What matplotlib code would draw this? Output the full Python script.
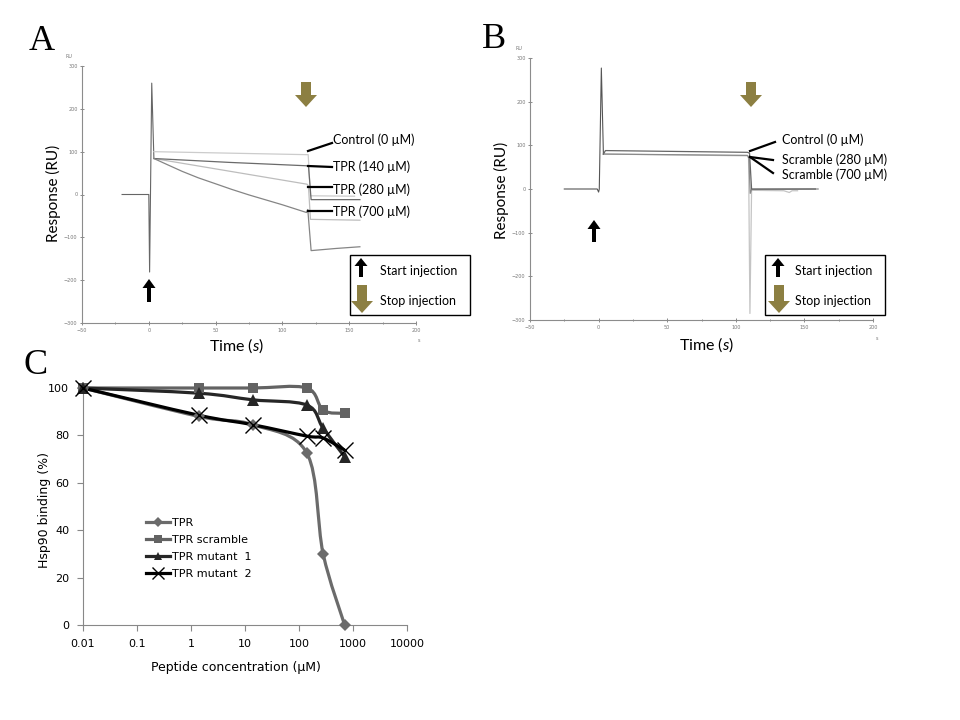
import numpy as np
import matplotlib.pyplot as plt
from matplotlib.path import Path
from matplotlib.patches import PathPatch, Rectangle, Polygon
from matplotlib.lines import Line2D
from matplotlib.transforms import Affine2D

plt.rcParams['mathtext.fontset'] = 'custom'
plt.rcParams['mathtext.rm'] = 'Lato'
plt.rcParams['mathtext.it'] = 'Lato:italic'

# ---- panel A: TPR peptide sensorgrams (time in s, response in RU)
a_inj_t = [-20, 0, 0.6, 2.2, 3.8]
a_inj_ru = [0, 0, -181, 260, 85]
a_ctrl_t = [3.8, 118.5, 119.3, 121, 154]
a_ctrl_ru = [100, 93, 93, -3, -4]
a_140_t = [3.8, 60, 118.5, 119.5, 121.5, 158]
a_140_ru = [84, 75, 67, 67, -12, -12]
a_280_t = [3.8, 118.5, 119.5, 121, 158]
a_280_ru = [84, 24, 20, -58, -60]
a_700_t = [3.8, 14, 25, 37, 50, 62, 75, 100, 118, 119, 121.5, 140, 158]
a_700_ru = [84, 69.5, 54, 39, 25, 12, -1, -24, -42, -35, -131, -126, -122]
a_labels = ['Control (0 µM)', 'TPR (140 µM)', 'TPR (280 µM)', 'TPR (700 µM)']

# ---- panel B: scrambled peptide sensorgrams
b_inj_t = [-25, -1, 0, 0.5, 2.0, 3.5]
b_inj_ru = [0, 0, -7, 0, 277, 80]
b_ctrl_t = [3.5, 5, 108.5, 110, 111.5, 158]
b_ctrl_ru = [80, 88, 84, 82, 0, 0]
b_280_t = [3.5, 108.5, 109.5, 110.5, 111.5, 160]
b_280_ru = [80, 77, 72, -10, -1, 0]
b_700_t = [3.5, 108.5, 109.3, 110.3, 111.5, 135, 139, 141, 145]
b_700_ru = [80, 76, 70, -285, -3, -4, -8, -4, -4]
b_labels = ['Control (0 µM)', 'Scramble (280 µM)', 'Scramble (700 µM)']

# ---- panel C: competition (% Hsp90 binding vs peptide concentration)
conc = [0.01, 1.4, 14, 140, 280, 700]
tpr = [100, 88, 84.5, 72.5, 30, 0]
tpr_scr = [100, 100, 100, 100, 90.6, 89.3]
tpr_mut1 = [100, 97.8, 95, 92.8, 83, 71]
tpr_mut2 = [100, 88.5, 84.5, 79.7, 78.9, 73.8]
c_names = ['TPR', 'TPR scramble', 'TPR mutant  1', 'TPR mutant  2']

gold = '#8C7F42'
lato = ['Lato', 'DejaVu Sans']

fig = plt.figure(figsize=(9.6, 7.2), dpi=100)
# pixel coordinates (y down) for the annotation decorations
px = Affine2D().scale(1 / 960, -1 / 720).translate(0, 1) + fig.transFigure


def sensor_axes(rect):
    ax = fig.add_axes(rect)
    ax.set_xlim(-50, 200)
    ax.set_ylim(-300, 300)
    ax.set_xticks(np.arange(-50, 201, 50))
    ax.set_xticks(np.arange(-50, 201, 25), minor=True)
    ax.set_yticks(np.arange(-300, 301, 100))
    for s in ['top', 'right']:
        ax.spines[s].set_visible(False)
    for s in ['left', 'bottom']:
        ax.spines[s].set_color('#8c8c8c')
        ax.spines[s].set_linewidth(0.8)
    ax.tick_params(which='both', labelsize=3.5, colors='#777777', length=2.5,
                   width=0.6, direction='inout', pad=2)
    ax.tick_params(which='minor', length=1.5)
    return ax


def block_arrow(x, y_tail, y_tip, shaft, head, hlen, color):
    d = 1 if y_tip > y_tail else -1
    yb = y_tip - d * hlen
    pts = [(x - shaft / 2, y_tail), (x + shaft / 2, y_tail), (x + shaft / 2, yb),
           (x + head / 2, yb), (x, y_tip), (x - head / 2, yb), (x - shaft / 2, yb)]
    fig.add_artist(Polygon(pts, closed=True, transform=px, facecolor=color,
                           edgecolor='none', zorder=5))


def leader(x0, y0, x1, y1):
    fig.add_artist(Line2D([x0, x1], [y0, y1], transform=px, color='black', lw=1.6))


def key_box(x0, y0, x1, y1, xa, xt):
    fig.add_artist(Rectangle((x0, y1), x1 - x0, y0 - y1, transform=px,
                             facecolor='white', edgecolor='black', lw=1, zorder=4))
    block_arrow(xa, y0 + 22, y0 + 3, 4, 13, 8, 'black')
    block_arrow(xa + 1, y0 + 30, y1 - 2, 10, 22, 12, gold)
    fig.text(xt / 960, 1 - (y0 + 16) / 720, 'Start injection', family=lato,
             fontsize=9, va='center', zorder=6)
    fig.text(xt / 960, 1 - (y0 + 46) / 720, 'Stop injection', family=lato,
             fontsize=9, va='center', zorder=6)


# ---------------- panel A
axA = sensor_axes([82 / 960, 1 - 323 / 720, 334 / 960, 257 / 720])
axA.plot(a_inj_t, a_inj_ru, color='#666666', lw=0.8)
axA.plot(a_ctrl_t, a_ctrl_ru, color='#cccccc', lw=0.9)
axA.plot(a_280_t, a_280_ru, color='#bdbdbd', lw=0.9)
axA.plot(a_140_t, a_140_ru, color='#6a6a6a', lw=0.9)
axA.plot(a_700_t, a_700_ru, color='#858585', lw=0.9)
axA.set_ylabel('Response (RU)', family=lato, fontsize=11)
axA.yaxis.set_label_coords(-0.062, 0.506)
axA.set_xlabel('Time ($\\it{s}$)', family=lato, fontsize=11.5)
axA.xaxis.set_label_coords(0.462, -0.052)
fig.text(69 / 960, 1 - 56 / 720, 'RU', fontsize=3.5, color='#777777', ha='center', va='center')
fig.text(419 / 960, 1 - 341 / 720, 's', fontsize=3.5, color='#777777', ha='center', va='center')

leader(308, 151, 332, 143)
leader(308, 166, 332, 167)
leader(308, 187, 332, 187)
leader(308, 211, 332, 211)
for lab, yy in zip(a_labels, [140, 167, 190, 212]):
    fig.text(333 / 960, 1 - yy / 720, lab, family=lato, fontsize=9, va='center')
block_arrow(306, 82, 107, 10, 22, 12, gold)
block_arrow(149, 302, 279, 4, 13, 9, 'black')
key_box(350, 255, 470, 315, 361, 380)

# ---------------- panel B
axB = sensor_axes([530 / 960, 1 - 320 / 720, 343 / 960, 262 / 720])
axB.plot(b_inj_t, b_inj_ru, color='#555555', lw=0.8)
axB.plot(b_700_t, b_700_ru, color='#c4c4c4', lw=0.9)
axB.plot(b_280_t, b_280_ru, color='#8a8a8a', lw=0.9)
axB.plot(b_ctrl_t, b_ctrl_ru, color='#666666', lw=0.9)
axB.set_ylabel('Response (RU)', family=lato, fontsize=11)
axB.yaxis.set_label_coords(-0.062, 0.496)
axB.set_xlabel('Time ($\\it{s}$)', family=lato, fontsize=11.5)
axB.xaxis.set_label_coords(0.516, -0.059)
fig.text(519 / 960, 1 - 48 / 720, 'RU', fontsize=3.5, color='#777777', ha='center', va='center')
fig.text(877 / 960, 1 - 339 / 720, 's', fontsize=3.5, color='#777777', ha='center', va='center')

leader(750, 151, 775, 142)
leader(750, 157, 773, 160)
leader(750, 157, 773, 173)
for lab, yy in zip(b_labels, [140, 160, 175]):
    fig.text(782 / 960, 1 - yy / 720, lab, family=lato, fontsize=9, va='center')
block_arrow(751, 82, 107, 10, 22, 12, gold)
block_arrow(594, 242, 220, 4, 13, 9, 'black')
key_box(765, 255, 885, 315, 778, 795)


# ---------------- panel C
def smooth_path(xs, ys):
    # Excel style smoothed line (Catmull-Rom as Bezier, in log-x space)
    pts = np.column_stack([np.log10(xs), ys]).astype(float)
    n = len(pts)
    verts = [pts[0]]
    codes = [Path.MOVETO]
    for i in range(n - 1):
        p0, p1 = pts[max(i - 1, 0)], pts[i]
        p2, p3 = pts[i + 1], pts[min(i + 2, n - 1)]
        verts += [p1 + (p2 - p0) / 6, p2 - (p3 - p1) / 6, p2]
        codes += [Path.CURVE4] * 3
    verts = np.array(verts)
    verts[:, 0] = 10 ** verts[:, 0]
    return Path(verts, codes)


axC = fig.add_axes([83 / 960, 1 - 625 / 720, 324 / 960, 237 / 720])
axC.set_xscale('log')
axC.set_xlim(0.01, 10000)
axC.set_ylim(0, 100)
series = [(tpr, '#6b6b6b', 'D', 6.5), (tpr_scr, '#636363', 's', 7),
          (tpr_mut1, '#262626', '^', 8), (tpr_mut2, '#000000', 'x', 11)]
handles = []
for (vals, col, mk, ms), name in zip(series, c_names):
    axC.add_patch(PathPatch(smooth_path(conc, vals), facecolor='none', edgecolor=col,
                            lw=2.3, clip_on=False))
    mew = 1.0 if mk == 'x' else 0
    axC.plot(conc, vals, linestyle='none', marker=mk, ms=ms, color=col, mew=mew,
             clip_on=False, zorder=3)
    handles.append(Line2D([], [], color=col, lw=2.3, marker=mk, ms=ms * 0.8, mew=mew))

axC.set_xticks([0.01, 0.1, 1, 10, 100, 1000, 10000])
axC.set_xticklabels(['0.01', '0.1', '1', '10', '100', '1000', '10000'])
axC.xaxis.set_minor_locator(plt.NullLocator())
axC.set_yticks(np.arange(0, 101, 20))
for s in ['top', 'right']:
    axC.spines[s].set_visible(False)
for s in ['left', 'bottom']:
    axC.spines[s].set_color('#888888')
axC.tick_params(labelsize=8, colors='#888888', labelcolor='black', length=4, pad=6)
axC.set_ylabel('Hsp90 binding (%)', fontsize=9)
axC.yaxis.set_label_coords(-0.099, 0.485)
axC.set_xlabel('Peptide concentration (µM)', fontsize=9)
axC.xaxis.set_label_coords(0.472, -0.152)
fig.legend(handles, c_names, loc='upper left', bbox_to_anchor=(146 / 960, 1 - 518 / 720),
           frameon=False, fontsize=8, handlelength=2.2, handletextpad=0.1,
           labelspacing=0.62, borderpad=0, borderaxespad=0)

# panel letters
for let, x, y in [('A', 42, 41), ('B', 494, 40), ('C', 36, 365)]:
    fig.text(x / 960, 1 - y / 720, let, family='Liberation Serif', fontsize=26,
             ha='center', va='center')

fig.savefig('out.png', dpi=100)
